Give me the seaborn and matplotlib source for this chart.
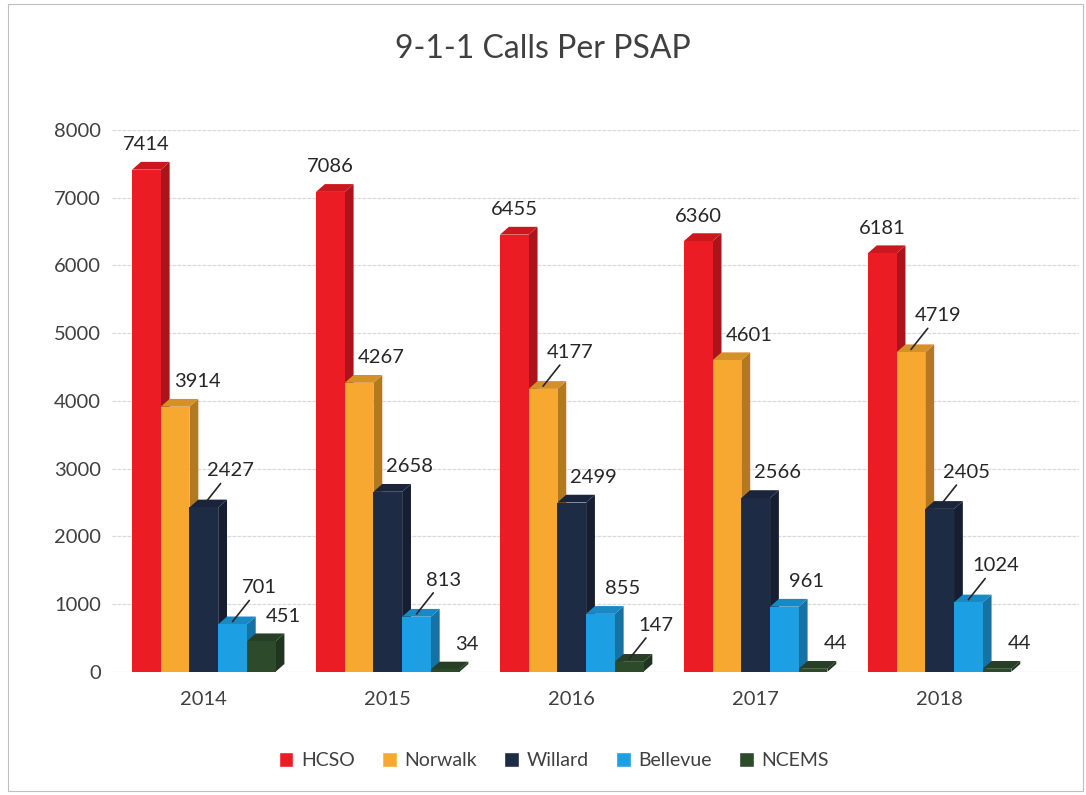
import pandas as pd
import seaborn as sns
import matplotlib.pyplot as plt
import matplotlib.colors as mcolors
from matplotlib.patches import Polygon, Rectangle

# Data
years = ['2014', '2015', '2016', '2017', '2018']
agencies = ['HCSO', 'Norwalk', 'Willard', 'Bellevue', 'NCEMS']
hcso = [7414, 7086, 6455, 6360, 6181]
norwalk = [3914, 4267, 4177, 4601, 4719]
willard = [2427, 2658, 2499, 2566, 2405]
bellevue = [701, 813, 855, 961, 1024]
ncems = [451, 34, 147, 44, 44]
colors = ['#EC1C24', '#F7A830', '#1E2B45', '#1D9FE4', '#2D4A2B']
# labels that get a small leader line in the original
leader = {('2014', 'Willard'), ('2014', 'Bellevue'), ('2015', 'Bellevue'),
          ('2016', 'Norwalk'), ('2016', 'NCEMS'), ('2018', 'Norwalk'),
          ('2018', 'Willard'), ('2018', 'Bellevue')}

series = [hcso, norwalk, willard, bellevue, ncems]
rows = []
for agency, vals in zip(agencies, series):
    for yr, v in zip(years, vals):
        rows.append({'Year': yr, 'Agency': agency, 'Calls': v})
df = pd.DataFrame(rows)

sns.set_theme(style='white')
plt.rcParams['font.family'] = ['Lato', 'DejaVu Sans']

fig = plt.figure(figsize=(10.86, 7.95), dpi=100)
ax = fig.add_axes([0.103, 0.155, 0.891, 0.6815])

sns.barplot(data=df, x='Year', y='Calls', hue='Agency', hue_order=agencies,
            palette=colors, width=0.78, gap=0, saturation=1, ax=ax,
            errorbar=None, zorder=3, linewidth=0)

# extra room on the right, the back wall of the 3D original runs past the last group
ax.set_xlim(-0.5, 4.76)
ax.set_ylim(0, 8000)
ax.set_yticks(range(0, 8001, 1000))
ax.yaxis.grid(True, color='#D9D9D9', linewidth=0.9, linestyle=(0, (3, 1)), zorder=0)
ax.set_axisbelow(True)
sns.despine(ax=ax, left=True, bottom=True)
ax.set_xlabel('')
ax.set_ylabel('')
ax.tick_params(axis='both', labelsize=14.5, colors='#404040', length=0)
ax.tick_params(axis='x', pad=14)
ax.tick_params(axis='y', pad=8)

# fake 3D: side and top faces from each bar's own geometry
dx, dy = 0.048, 115
for cont, col in zip(ax.containers, colors):
    rgb = mcolors.to_rgb(col)
    side = tuple(c * 0.72 for c in rgb)
    top = tuple(c * 0.86 for c in rgb)
    for p in cont.patches:
        x0, w, h = p.get_x(), p.get_width(), p.get_height()
        ax.add_patch(Polygon([(x0 + w, 0), (x0 + w + dx, dy), (x0 + w + dx, h + dy), (x0 + w, h)],
                             closed=True, facecolor=side, edgecolor='none', zorder=2))
        ax.add_patch(Polygon([(x0, h), (x0 + dx, h + dy), (x0 + w + dx, h + dy), (x0 + w, h)],
                             closed=True, facecolor=top, edgecolor='none', zorder=2))

# value labels
for cont, agency in zip(ax.containers, agencies):
    shift = 0 if agency == 'HCSO' else 22
    for p, yr in zip(cont.patches, years):
        cx = p.get_x() + p.get_width() / 2
        h = p.get_height()
        txt = f'{int(h)}'
        if (yr, agency) in leader:
            ax.annotate(txt, xy=(cx, h + 40), xytext=(27, 34), textcoords='offset pixels',
                        ha='center', va='center', fontsize=14.5, color='#262626',
                        arrowprops=dict(arrowstyle='-', color='#262626', lw=1.2,
                                        shrinkA=1, shrinkB=0), zorder=5)
        else:
            ax.annotate(txt, xy=(cx, h), xytext=(shift, 25), textcoords='offset pixels',
                        ha='center', va='center', fontsize=14.5, color='#262626', zorder=5)

ax.legend_.remove()
handles = [Rectangle((0, 0), 1, 1, facecolor=c) for c in colors]
fig.legend(handles, agencies, loc='center', bbox_to_anchor=(0.51, 0.043), ncol=5,
           frameon=False, fontsize=14, handlelength=0.75, handleheight=0.75,
           handletextpad=0.4, columnspacing=1.4, labelcolor='#404040')

fig.suptitle('9-1-1 Calls Per PSAP', fontsize=23, color='#404040', y=0.957)

# thin page border like the scanned original
fig.patches.append(Rectangle((0.007, 0.005), 0.99, 0.99, transform=fig.transFigure,
                             fill=False, edgecolor='#BFBFBF', linewidth=0.8))

fig.savefig('out.png', dpi=100)
